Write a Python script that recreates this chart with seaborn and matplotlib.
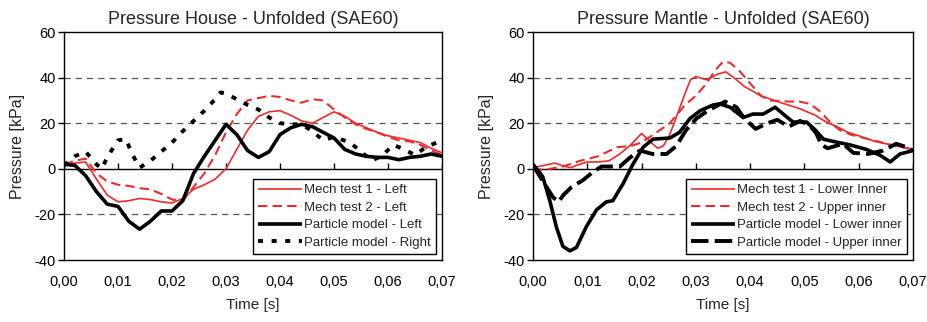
import matplotlib
matplotlib.use("Agg")
import matplotlib.pyplot as plt
import seaborn as sns

sns.set_theme(style="white")
plt.rcParams['font.family'] = ['Liberation Sans', 'DejaVu Sans']
plt.rcParams['axes.unicode_minus'] = False

# axis ticks
x_ticks = [0.00, 0.01, 0.02, 0.03, 0.04, 0.05, 0.06, 0.07]
x_tick_labels = ["0,00", "0,01", "0,02", "0,03", "0,04", "0,05", "0,06", "0,07"]
y_ticks = [-40, -20, 0, 20, 40, 60]
y_tick_labels = ["-40", "-20", "0", "20", "40", "60"]

# ---- Pressure House (left panel) ----
house_time = [0.000, 0.002, 0.004, 0.006, 0.008, 0.010, 0.012, 0.014, 0.016, 0.018,
              0.020, 0.022, 0.024, 0.026, 0.028, 0.030, 0.032, 0.034, 0.036, 0.038,
              0.040, 0.042, 0.044, 0.046, 0.048, 0.050, 0.052, 0.054, 0.056, 0.058,
              0.060, 0.062, 0.064, 0.066, 0.068, 0.070]
house_mech1 = [2, 2.5, 3, -4.5, -11.5, -14.5, -14, -13, -13.5, -14.5,
               -15, -13, -9, -7, -4.5, 0, 8.5, 17, 23, 25,
               25.5, 23.5, 21, 20, 22.5, 25, 23, 20, 18, 16,
               14.5, 13.5, 12.5, 11.5, 9, 7]
house_mech2 = [2, 3.5, 4.5, -2, -5.5, -7, -7.5, -8.5, -9, -11,
               -13.5, -14, -8, -2, 6, 16, 24, 30, 31, 32,
               31.5, 30, 29, 30.5, 30, 26, 22.5, 19.5, 17.5, 16,
               14, 12.5, 12, 10.5, 8, 6]
house_particle_left = [2, 1.5, -3, -10, -15.5, -16.5, -23, -26.5, -23, -18.5,
                       -18.5, -14, -2, 5.5, 12.5, 19.5, 15, 8, 5, 7.5,
                       15, 18, 19.5, 18.5, 16, 13.5, 8.5, 6.5, 5.5, 5,
                       5, 4, 5, 5.5, 6.5, 5.5]
house_right_time = [0.000, 0.002, 0.004, 0.006, 0.007, 0.008, 0.010, 0.0115, 0.0125, 0.014,
                    0.016, 0.018, 0.020, 0.022, 0.024, 0.026, 0.028, 0.029, 0.030, 0.032,
                    0.034, 0.036, 0.038, 0.040, 0.042, 0.044, 0.046, 0.048, 0.050, 0.053,
                    0.055, 0.057, 0.059, 0.061, 0.063, 0.065, 0.067, 0.069, 0.070]
house_particle_right = [1.5, 5.5, 7.5, 2, 0, 5, 12.5, 13, 7, 0.5,
                        3.5, 7.5, 11.5, 16.5, 21, 25.5, 30.5, 33.5, 33, 30.5,
                        28, 26, 22.5, 20, 19.5, 19.5, 16.5, 12.5, 14, 11.5,
                        7.5, 3.5, 6, 10.5, 8.5, 6, 9.5, 11.5, 11]

# ---- Pressure Mantle (right panel) ----
mantle_mech1_time = [0.000, 0.002, 0.004, 0.006, 0.007, 0.008, 0.010, 0.012, 0.014, 0.016,
                     0.018, 0.020, 0.022, 0.023, 0.024, 0.025, 0.026, 0.028, 0.029, 0.030,
                     0.032, 0.034, 0.0355, 0.037, 0.039, 0.042, 0.045, 0.049, 0.052, 0.054,
                     0.056, 0.058, 0.060, 0.063, 0.066, 0.068, 0.070]
mantle_mech1 = [0.5, 1.5, 2.5, 1, 0.5, 1.5, 3, 3, 3.5, 6.5,
                10.5, 15.5, 11, 9, 10, 14, 20, 33, 39, 40.5,
                39, 41.5, 42.5, 40, 36, 32, 29.5, 26.5, 23.5, 20.5,
                18.5, 16, 14.5, 12, 10.5, 9.5, 8.5]
mantle_mech2_time = [0.000, 0.002, 0.0055, 0.0087, 0.012, 0.0155, 0.018, 0.020, 0.0234, 0.0252,
                     0.028, 0.030, 0.032, 0.0335, 0.035, 0.0363, 0.038, 0.040, 0.042, 0.0436,
                     0.047, 0.049, 0.051, 0.053, 0.0547, 0.0565, 0.0585, 0.061, 0.0635, 0.066,
                     0.068, 0.070]
mantle_mech2 = [0, -0.5, 1, 3.5, 5.5, 9.5, 10, 11.5, 17, 20,
                28, 32, 37.5, 43, 47, 46.5, 43, 37.5, 32, 30,
                29.5, 29.5, 28.5, 25, 20.5, 17, 15, 13.5, 12, 10.5,
                9.5, 8.5]
mantle_lower_time = [0.000, 0.0018, 0.0031, 0.0043, 0.0055, 0.0068, 0.008, 0.0098, 0.0117, 0.0135,
                     0.0147, 0.0166, 0.0184, 0.0203, 0.0221, 0.0252, 0.027, 0.0289, 0.0308, 0.0332,
                     0.0344, 0.0363, 0.0387, 0.0405, 0.0424, 0.0446, 0.0461, 0.0479, 0.0504, 0.052,
                     0.0535, 0.0553, 0.0584, 0.0614, 0.0639, 0.0658, 0.0676, 0.070]
mantle_particle_lower = [2, -3.5, -14, -25.5, -34, -36, -34.5, -25.5, -18, -14.5,
                         -14, -6.5, 2, 9.5, 13, 13.5, 16, 22, 25.5, 28,
                         28.5, 27, 22.5, 24, 24, 27, 24, 20.5, 20.5, 17,
                         13, 12, 10.5, 8.5, 6, 3, 6.5, 8]
mantle_upper_time = [0.000, 0.0025, 0.0037, 0.0047, 0.0056, 0.0071, 0.0092, 0.011, 0.0126, 0.016,
                     0.0179, 0.0197, 0.022, 0.0246, 0.0264, 0.0282, 0.0301, 0.0319, 0.033, 0.0354,
                     0.0375, 0.0388, 0.041, 0.0432, 0.045, 0.0471, 0.0492, 0.051, 0.0522, 0.0531,
                     0.0543, 0.0571, 0.059, 0.0617, 0.0645, 0.0669, 0.0688, 0.070]
mantle_particle_upper = [1.5, -8, -12.5, -14.5, -11.5, -8, -5, -1.5, 1, 1,
                         5, 8, 6.5, 6.5, 10, 17, 22, 25, 26.5, 29.5,
                         27, 22.5, 17.5, 20, 21.5, 18.5, 21, 19, 15.5, 10.5,
                         9, 11, 7, 6.5, 8, 11, 9.5, 8]

RED = "#ee2a2a"

house_series = [
    ("Mech test 1 - Left", house_time, house_mech1, RED, 1.2, "-"),
    ("Mech test 2 - Left", house_time, house_mech2, RED, 1.5, (0, (4.5, 2.5))),
    ("Particle model - Left", house_time, house_particle_left, "black", 2.6, "-"),
    ("Particle model - Right", house_right_time, house_particle_right, "black", 2.8, (0, (1.3, 2.2))),
]
mantle_series = [
    ("Mech test 1 - Lower Inner", mantle_mech1_time, mantle_mech1, RED, 1.2, "-"),
    ("Mech test 2 - Upper inner", mantle_mech2_time, mantle_mech2, RED, 1.5, (0, (4.5, 2.5))),
    ("Particle model - Lower inner", mantle_lower_time, mantle_particle_lower, "black", 2.6, "-"),
    ("Particle model - Upper inner", mantle_upper_time, mantle_particle_upper, "black", 2.8, (0, (4.5, 1.6))),
]


def draw_panel(ax, title, series):
    # grid lines and zero axis first so curves sit on top
    for y in y_ticks[1:-1]:
        if y != 0:
            ax.axhline(y, color="#555555", lw=0.9, ls=(0, (5, 4)), zorder=0)
    ax.axhline(0, color="black", lw=1, zorder=1)
    ax.vlines(x_ticks, 0, 2.5, color="black", lw=1, zorder=1)

    for label, t, p, color, lw, ls in series:
        sns.lineplot(x=t, y=p, ax=ax, color=color, linewidth=lw, linestyle=ls,
                     label=label, solid_capstyle="butt", dash_capstyle="butt", zorder=3)

    ax.set_xlim(0, 0.07)
    ax.set_ylim(-40, 60)
    ax.set_xticks(x_ticks)
    ax.set_xticklabels(x_tick_labels)
    ax.set_yticks(y_ticks)
    ax.set_yticklabels(y_tick_labels)
    ax.tick_params(axis="x", bottom=False, length=0, pad=11, labelsize=10.5, colors="black")
    ax.tick_params(axis="y", left=True, length=4, width=1, direction="out", pad=2,
                   labelsize=10.5, colors="black")
    for side in ["left", "right", "top", "bottom"]:
        ax.spines[side].set_color("black")
        ax.spines[side].set_linewidth(1)
    ax.set_title(title, fontsize=13, pad=6)
    ax.set_xlabel("Time [s]", fontsize=11, labelpad=6)
    ax.set_ylabel("Pressure [kPa]", fontsize=11.5, labelpad=7)

    leg = ax.legend(loc="lower right", bbox_to_anchor=(0.984, 0.026), borderaxespad=0,
                    frameon=True, fancybox=False, edgecolor="black", framealpha=1,
                    fontsize=9.5, handlelength=3.3, handletextpad=0.15,
                    labelspacing=0.4, borderpad=0.4)
    leg.get_frame().set_linewidth(1)


fig = plt.figure(figsize=(9.28, 3.22), dpi=100)
ax_l = fig.add_axes([64 / 928, 62 / 322, 378 / 928, 228 / 322])
ax_r = fig.add_axes([533 / 928, 62 / 322, 380 / 928, 228 / 322])

draw_panel(ax_l, "Pressure House - Unfolded (SAE60)", house_series)
draw_panel(ax_r, "Pressure Mantle - Unfolded (SAE60)", mantle_series)

fig.savefig("out.png", dpi=100, facecolor="white")
